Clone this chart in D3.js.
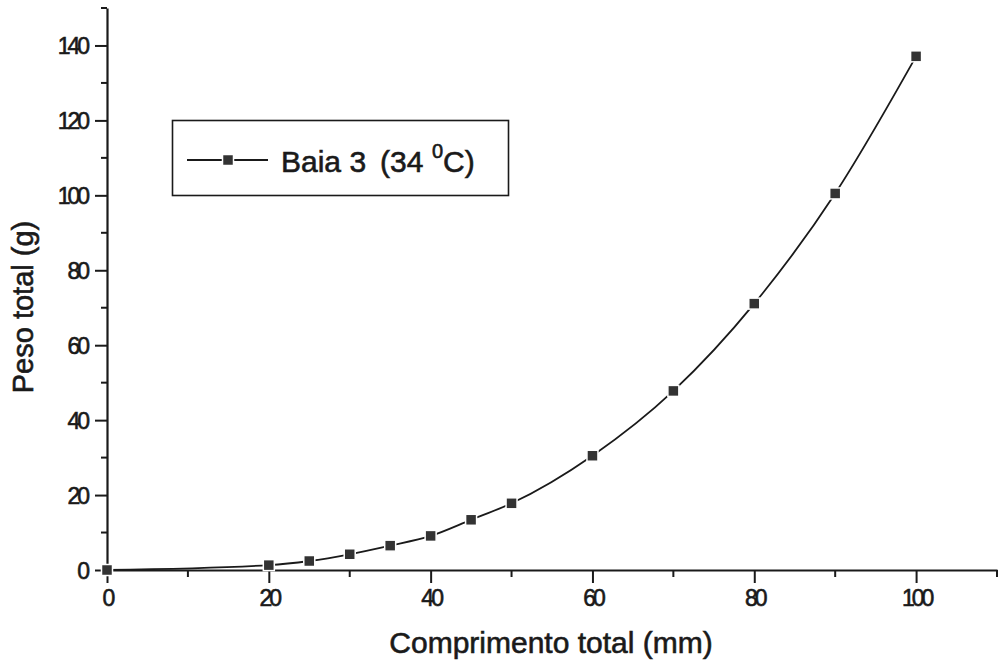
<!DOCTYPE html>
<html>
<head>
<meta charset="utf-8">
<script src="https://cdn.jsdelivr.net/npm/d3@7"></script>
<style>
  html, body { margin: 0; padding: 0; background: #fff; }
  svg { display: block; font-family: "Liberation Sans", Arial, sans-serif; }
  svg text { stroke: #1a1a1a; stroke-width: 0.6px; }
</style>
</head>
<body>
<svg id="chart" width="1000" height="667"></svg>
<script>
// Comprimento total (mm) vs Peso total (g)
const comprimento = [0, 20, 25, 30, 35, 40, 45, 50, 60, 70, 80, 90, 100];
const peso        = [0, 1.3, 2.4, 4.2, 6.5, 9.1, 13.4, 17.8, 30.5, 47.8, 71.1, 100.5, 137.1];
const xTicks = [0, 20, 40, 60, 80, 100];
const yTicks = [0, 20, 40, 60, 80, 100, 120, 140];

const svg = d3.select("#chart");
const plotLeft = 107, plotRight = 997, plotTop = 8, plotBottom = 570;

const x = d3.scaleLinear().domain([0, 110]).range([plotLeft, plotRight]);
const y = d3.scaleLinear().domain([0, 150]).range([plotBottom, plotTop]);

const ink = "#1a1a1a";

// minor ticks
const xMinor = d3.range(10, 111, 20);
const yMinor = d3.range(10, 151, 20);

svg.append("g").selectAll("line").data(xMinor).join("line")
  .attr("x1", d => x(d)).attr("x2", d => x(d))
  .attr("y1", plotBottom).attr("y2", plotBottom + 7)
  .attr("stroke", ink).attr("stroke-width", 2);
svg.append("g").selectAll("line").data(yMinor).join("line")
  .attr("x1", plotLeft - 6).attr("x2", plotLeft)
  .attr("y1", d => y(d)).attr("y2", d => y(d))
  .attr("stroke", ink).attr("stroke-width", 2);

// x axis
const xAxis = svg.append("g")
  .attr("transform", `translate(0,${plotBottom})`)
  .call(d3.axisBottom(x).tickValues(xTicks).tickSize(13).tickSizeOuter(0).tickPadding(7));
// y axis
const yAxis = svg.append("g")
  .attr("transform", `translate(${plotLeft},0)`)
  .call(d3.axisLeft(y).tickValues(yTicks).tickSize(12).tickSizeOuter(0).tickPadding(8));

[xAxis, yAxis].forEach(g => {
  g.select(".domain").attr("stroke", ink).attr("stroke-width", 2.2);
  g.selectAll(".tick line").attr("stroke", ink).attr("stroke-width", 2);
  g.selectAll(".tick text")
    .attr("fill", ink)
    .style("font-size", "23px")
    .style("letter-spacing", "-3px")
    .style("font-family", "'Liberation Sans', Arial, sans-serif");
});
yAxis.selectAll(".tick text").attr("dy", "0.36em");

// curve through the measurements
const pts = comprimento.map((c, i) => [c, peso[i]]);
const line = d3.line().x(d => x(d[0])).y(d => y(d[1])).curve(d3.curveMonotoneX);
svg.append("path")
  .attr("d", line(pts))
  .attr("fill", "none")
  .attr("stroke", ink)
  .attr("stroke-width", 1.8);

// square markers
const ms = 11;
svg.append("g").selectAll("rect").data(pts).join("rect")
  .attr("x", d => x(d[0]) - ms / 2)
  .attr("y", d => y(d[1]) - ms / 2)
  .attr("width", ms).attr("height", ms)
  .attr("fill", "#333")
  .attr("stroke", "#fff")
  .attr("stroke-width", 1.5);

// axis titles
svg.append("text")
  .attr("x", 551).attr("y", 653)
  .attr("text-anchor", "middle")
  .attr("fill", ink)
  .style("font-size", "30px")
  .text("Comprimento total (mm)");

svg.append("text")
  .attr("transform", "translate(33,307) rotate(-90)")
  .attr("text-anchor", "middle")
  .attr("fill", ink)
  .style("font-size", "29px")
  .text("Peso total (g)");

// legend
const lg = svg.append("g");
lg.append("rect")
  .attr("x", 172.5).attr("y", 120.5)
  .attr("width", 336).attr("height", 75)
  .attr("fill", "#fff").attr("stroke", ink).attr("stroke-width", 1.6);
lg.append("line")
  .attr("x1", 187).attr("x2", 268).attr("y1", 160).attr("y2", 160)
  .attr("stroke", ink).attr("stroke-width", 1.8);
lg.append("rect")
  .attr("x", 228 - ms / 2).attr("y", 160 - ms / 2)
  .attr("width", ms).attr("height", ms)
  .attr("fill", "#333").attr("stroke", "#fff").attr("stroke-width", 1.5);
const lt = lg.append("text")
  .attr("y", 172)
  .attr("fill", ink)
  .style("font-size", "30px");
lt.append("tspan").attr("x", 281).text("Baia 3");
lt.append("tspan").attr("x", 380).text("(34");
lt.append("tspan").attr("x", 432).attr("dy", -14).style("font-size", "20px").text("0");
lt.append("tspan").attr("x", 443).attr("dy", 14).text("C)");
</script>
</body>
</html>
